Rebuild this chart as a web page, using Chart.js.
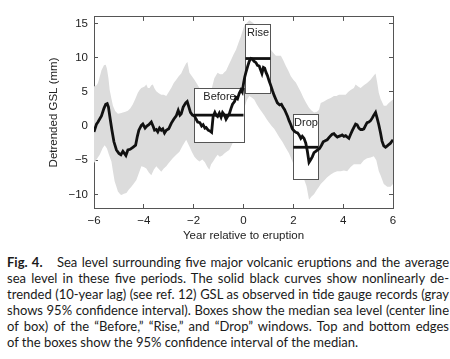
<!DOCTYPE html>
<html>
<head>
<meta charset="utf-8">
<script src="https://cdn.jsdelivr.net/npm/chart.js@4.4.0/dist/chart.umd.min.js"></script>
<style>
body{margin:0;background:#fff;width:450px;height:359px;overflow:hidden;position:relative}
#wrap{position:absolute;left:0;top:0;width:450px;height:245px}
#cap{position:absolute;left:7px;top:254px;width:442px;font-family:Lato,sans-serif;font-size:13px;line-height:16px;color:#1a1a1a}
#cap div{text-align:justify;text-align-last:justify;white-space:nowrap}
#cap div.last{text-align-last:left}
#cap b{margin-right:10px}
</style>
</head>
<body>
<div id="wrap"><canvas id="myChart"></canvas></div>
<div id="cap">
<div><b>Fig. 4.</b> Sea level surrounding five major volcanic eruptions and the average</div>
<div>sea level in these five periods. The solid black curves show nonlinearly de-</div>
<div>trended (10-year lag) (see ref. 12) GSL as observed in tide gauge records (gray</div>
<div>shows 95% confidence interval). Boxes show the median sea level (center line</div>
<div>of box) of the “Before,” “Rise,” and “Drop” windows. Top and bottom edges</div>
<div class="last">of the boxes show the 95% confidence interval of the median.</div>
</div>
<script>
// detrended GSL, black curve
var years = [-6.0,-5.9,-5.84,-5.7,-5.6,-5.53,-5.47,-5.42,-5.35,-5.28,-5.2,-5.1,-5.0,-4.92,-4.84,-4.78,-4.72,-4.64,-4.55,-4.44,-4.33,-4.26,-4.2,-4.1,-4.04,-3.95,-3.88,-3.8,-3.7,-3.62,-3.57,-3.5,-3.44,-3.37,-3.3,-3.24,-3.17,-3.1,-3.0,-2.9,-2.8,-2.7,-2.62,-2.55,-2.5,-2.42,-2.32,-2.26,-2.2,-2.13,-2.05,-1.97,-1.9,-1.84,-1.75,-1.68,-1.62,-1.55,-1.5,-1.42,-1.35,-1.28,-1.22,-1.15,-1.1,-1.04,-0.97,-0.9,-0.84,-0.76,-0.7,-0.62,-0.57,-0.5,-0.44,-0.36,-0.3,-0.24,-0.17,-0.1,-0.05,0.0,0.05,0.1,0.17,0.23,0.3,0.36,0.42,0.5,0.56,0.63,0.7,0.74,0.8,0.85,0.9,0.96,1.03,1.1,1.17,1.23,1.3,1.36,1.45,1.52,1.58,1.65,1.7,1.77,1.83,1.9,1.96,2.03,2.1,2.17,2.23,2.3,2.36,2.43,2.5,2.56,2.63,2.7,2.76,2.83,2.9,2.97,3.05,3.13,3.2,3.3,3.36,3.43,3.5,3.56,3.63,3.7,3.77,3.83,3.9,3.96,4.03,4.1,4.16,4.23,4.3,4.36,4.43,4.5,4.56,4.63,4.7,4.77,4.83,4.9,4.96,5.03,5.1,5.17,5.23,5.3,5.36,5.43,5.5,5.56,5.63,5.7,5.77,5.83,5.9,6.0];
var gsl = [-0.85,0.3,0.6,1.5,2.6,3.2,3.3,2.8,1.05,-0.6,-2.3,-3.5,-4.0,-4.2,-3.7,-4.0,-4.3,-3.5,-3.4,-3.1,-2.8,-1.5,-0.6,0.1,0.3,-0.3,0.0,0.2,0.6,-0.1,-0.6,-0.5,-0.85,-0.3,-0.6,-0.4,-1.0,-0.6,-0.4,0.4,1.0,1.5,2.3,1.6,1.8,2.8,3.4,3.6,2.9,2.0,1.6,1.5,1.0,0.6,0.5,0.0,0.2,-0.3,-0.2,-0.6,-0.7,-0.9,1.4,2.0,1.6,1.4,1.9,1.3,2.0,1.6,1.0,1.5,1.8,2.6,3.2,3.6,4.2,4.0,4.8,5.3,5.0,6.2,7.2,7.9,8.8,9.5,9.9,9.8,9.5,9.3,8.9,8.8,8.1,7.7,8.6,8.5,7.9,7.4,6.6,5.9,5.1,4.5,3.9,3.4,3.1,3.2,2.8,2.4,2.0,1.4,0.8,0.2,-0.4,-0.7,-0.9,-1.0,-1.3,-1.8,-1.5,-1.8,-2.5,-3.6,-5.3,-4.9,-4.5,-3.9,-3.7,-3.5,-3.3,-2.8,-2.3,-2.1,-2.0,-1.7,-1.4,-1.2,-1.1,-1.4,-1.6,-1.5,-1.4,-1.3,-1.5,-1.4,-1.6,-1.8,-1.2,-0.7,-0.2,0.3,0.2,-0.3,-0.5,-0.5,-0.4,0.1,0.5,0.6,0.8,1.2,1.6,2.0,1.2,0.2,-1.0,-2.2,-2.9,-3.1,-2.9,-2.7,-2.5,-2.0];

// 95% confidence band, upper and lower edges
var upperYears = [-6.0,-5.9,-5.84,-5.75,-5.7,-5.6,-5.53,-5.48,-5.42,-5.37,-5.3,-5.24,-5.15,-5.04,-4.94,-4.84,-4.74,-4.64,-4.54,-4.44,-4.34,-4.24,-4.17,-4.1,-4.03,-3.97,-3.9,-3.84,-3.77,-3.7,-3.64,-3.57,-3.5,-3.4,-3.3,-3.2,-3.1,-3.0,-2.9,-2.8,-2.7,-2.6,-2.5,-2.4,-2.3,-2.25,-2.17,-2.07,-1.97,-1.87,-1.77,-1.67,-1.57,-1.47,-1.37,-1.27,-1.17,-1.04,-0.94,-0.84,-0.77,-0.7,-0.6,-0.5,-0.4,-0.3,-0.2,-0.1,0.03,0.13,0.23,0.35,0.5,0.7,0.9,1.0,1.1,1.2,1.3,1.5,1.6,1.7,1.8,1.9,2.0,2.1,2.2,2.3,2.4,2.5,2.63,2.73,2.83,2.95,3.03,3.1,3.23,3.36,3.5,3.63,3.73,3.83,3.95,4.1,4.2,4.3,4.43,4.5,4.6,4.7,4.83,4.96,5.1,5.16,5.23,5.3,5.36,5.43,5.5,5.63,5.73,5.83,6.0];
var upperGsl = [5.8,6.0,6.3,7.5,8.2,8.9,9.0,8.4,7.0,5.3,4.0,3.0,2.2,1.8,1.9,2.0,2.1,2.25,2.6,3.2,4.0,4.9,5.3,5.6,5.7,5.8,6.1,5.6,5.6,6.0,6.1,5.5,5.1,4.8,4.6,4.6,4.4,5.0,5.6,6.3,6.8,7.3,7.7,8.5,9.2,9.4,7.8,7.3,6.8,6.2,5.6,5.2,4.9,4.6,4.4,5.6,7.0,7.8,7.6,7.6,7.9,8.1,8.9,9.7,10.5,11.2,12.2,13.2,14.7,15.1,15.5,15.2,14.7,13.9,13.2,12.2,11.2,10.7,10.3,10.3,9.6,8.8,8.1,7.3,6.8,6.4,5.7,5.0,4.2,3.5,2.7,2.3,2.0,2.1,2.4,3.4,3.6,3.9,4.1,4.4,4.4,4.6,4.6,4.6,5.0,5.3,5.6,6.1,5.8,5.6,6.0,6.3,6.8,7.1,7.4,7.7,6.5,4.9,4.0,3.0,3.0,3.4,3.9];
var lowerYears = [-6.0,-5.9,-5.77,-5.65,-5.57,-5.48,-5.4,-5.3,-5.24,-5.17,-5.1,-5.04,-4.95,-4.9,-4.8,-4.7,-4.6,-4.5,-4.4,-4.3,-4.2,-4.1,-4.0,-3.9,-3.8,-3.7,-3.6,-3.5,-3.4,-3.3,-3.2,-3.1,-3.0,-2.84,-2.7,-2.57,-2.45,-2.3,-2.17,-2.07,-1.97,-1.87,-1.77,-1.65,-1.55,-1.45,-1.37,-1.3,-1.22,-1.12,-1.04,-0.95,-0.85,-0.77,-0.65,-0.57,-0.44,-0.37,-0.25,-0.17,-0.08,0.03,0.13,0.23,0.33,0.43,0.53,0.63,0.73,0.83,0.93,1.03,1.13,1.23,1.3,1.43,1.56,1.7,1.83,1.93,2.03,2.13,2.23,2.33,2.43,2.53,2.63,2.73,2.83,2.95,3.03,3.1,3.23,3.36,3.5,3.63,3.76,3.9,4.03,4.16,4.3,4.43,4.56,4.7,4.83,4.96,5.1,5.23,5.33,5.43,5.5,5.63,5.77,5.9,6.0];
var lowerGsl = [-5.4,-4.9,-4.2,-3.2,-2.8,-3.3,-4.2,-5.2,-6.6,-8.1,-8.9,-9.6,-10.0,-10.1,-9.9,-9.8,-9.3,-8.9,-8.4,-7.9,-6.9,-5.9,-6.0,-6.2,-6.8,-7.2,-6.4,-5.9,-6.3,-6.7,-6.2,-5.9,-5.4,-4.7,-4.2,-3.75,-2.9,-2.0,-3.0,-3.8,-4.5,-4.9,-5.2,-4.9,-5.3,-6.0,-6.4,-5.6,-5.2,-4.6,-4.2,-4.5,-4.3,-4.0,-3.7,-3.5,-2.5,-1.8,-0.9,-0.4,1.0,2.6,3.8,4.4,4.2,3.9,3.2,2.6,2.1,1.6,1.0,0.5,0.0,-0.4,-0.8,-1.6,-2.3,-3.2,-4.0,-4.9,-5.8,-6.3,-6.8,-7.3,-7.8,-8.8,-10.8,-10.3,-10.0,-9.3,-8.9,-8.5,-8.0,-7.5,-7.1,-6.8,-6.6,-6.6,-6.5,-6.6,-6.0,-5.6,-5.6,-5.6,-5.0,-4.7,-4.6,-4.4,-5.0,-6.6,-7.2,-8.5,-8.9,-8.9,-8.5];

// median windows
var boxLabels = ["Before", "Rise", "Drop"];
var boxStart = [-2.0, 0.08, 2.0];
var boxEnd = [0.0, 1.08, 3.0];
var boxLow = [-2.4, 4.9, -7.8];
var boxMid = [1.6, 9.9, -3.1];
var boxHigh = [5.6, 15.0, 1.7];

var xTicks = [-6, -4, -2, 0, 2, 4, 6];
var yTicks = [-10, -5, 0, 5, 10, 15];

function pairs(xs, ys){
	return xs.map(function(x, i){ return {x: x, y: ys[i]}; });
}
function minus(v){
	return String(v).replace("-", "\u2212");
}

var frame = "#555";
var tickFont = {family: "Liberation Sans", size: 11.5};

var boxPlugin = {
	id: "boxes",
	beforeDatasetDraw: function(chart, args){
		if (chart.data.datasets[args.index].label != "GSL") return;
		var ctx = chart.ctx, xs = chart.scales.x, ys = chart.scales.y;
		ctx.save();
		boxLabels.forEach(function(lab, i){
			var l = Math.round(xs.getPixelForValue(boxStart[i])) + 0.5;
			var r = Math.round(xs.getPixelForValue(boxEnd[i])) + 0.5;
			var t = Math.round(ys.getPixelForValue(boxHigh[i])) + 0.5;
			var b = Math.round(ys.getPixelForValue(boxLow[i])) + 0.5;
			ctx.fillStyle = "#fff";
			ctx.fillRect(l, t, r - l, b - t);
			ctx.strokeStyle = frame;
			ctx.lineWidth = 1;
			ctx.strokeRect(l, t, r - l, b - t);
			ctx.fillStyle = "#222";
			ctx.font = "11px 'Liberation Sans'";
			ctx.textAlign = "center";
			ctx.textBaseline = "middle";
			ctx.fillText(lab, (l + r) / 2, t + 8);
		});
		ctx.restore();
	}
};

var datasets = [
	{label: "lower", data: pairs(lowerYears, lowerGsl), borderWidth: 0, borderColor: "rgba(0,0,0,0)", pointRadius: 0, fill: false, order: 5},
	{label: "upper", data: pairs(upperYears, upperGsl), borderWidth: 0, borderColor: "rgba(0,0,0,0)", pointRadius: 0, fill: 0, backgroundColor: "#dcdcdc", order: 4},
	{label: "GSL", data: pairs(years, gsl), borderColor: "#111", borderWidth: 2.8, pointRadius: 0, fill: false, order: 2}
];
boxLabels.forEach(function(lab, i){
	datasets.push({
		label: lab,
		data: [{x: boxStart[i], y: boxMid[i]}, {x: boxEnd[i], y: boxMid[i]}],
		borderColor: "#111", borderWidth: 2.8, pointRadius: 0, fill: false, order: 1
	});
});

function inward(pos, w){
	return {
		grid: {drawOnChartArea: false, tickLength: -4, tickColor: frame, tickWidth: 1},
		border: {color: frame, width: 1},
		afterFit: function(s){ if (pos == "h") s.height = w; else s.width = w; }
	};
}

var xs = Object.assign(inward("h", 37), {
	type: "linear", position: "bottom", min: -6, max: 6,
	afterBuildTicks: function(s){ s.ticks = xTicks.map(function(v){ return {value: v}; }); },
	ticks: {padding: 10, color: "#222", font: tickFont, callback: minus},
	title: {display: true, text: "Year relative to eruption", color: "#222", font: tickFont, padding: {top: 0, bottom: 2}}
});
var xs2 = Object.assign(inward("h", 16), {
	type: "linear", position: "top", min: -6, max: 6,
	afterBuildTicks: function(s){ s.ticks = xTicks.map(function(v){ return {value: v}; }); },
	ticks: {display: false}
});
var ys = Object.assign(inward("v", 94), {
	type: "linear", position: "left", min: -12, max: 16,
	afterBuildTicks: function(s){ s.ticks = yTicks.map(function(v){ return {value: v}; }); },
	ticks: {padding: 10, color: "#222", font: tickFont, callback: minus},
	title: {display: true, text: "Detrended GSL (mm)", color: "#222", font: tickFont, padding: {top: 47, bottom: 0}}
});
var ys2 = Object.assign(inward("v", 57), {
	type: "linear", position: "right", min: -12, max: 16,
	afterBuildTicks: function(s){ s.ticks = yTicks.map(function(v){ return {value: v}; }); },
	ticks: {display: false}
});

var myChart = document.getElementById("myChart");
window.chart1 = new Chart(myChart, {
	type: "line",
	data: {datasets: datasets},
	options: {
		responsive: true,
		maintainAspectRatio: false,
		animation: false,
		layout: {padding: 0},
		plugins: {legend: {display: false}, tooltip: {enabled: false}},
		scales: {x: xs, x2: xs2, y: ys, y2: ys2}
	},
	plugins: [boxPlugin]
});
</script>
</body>
</html>
